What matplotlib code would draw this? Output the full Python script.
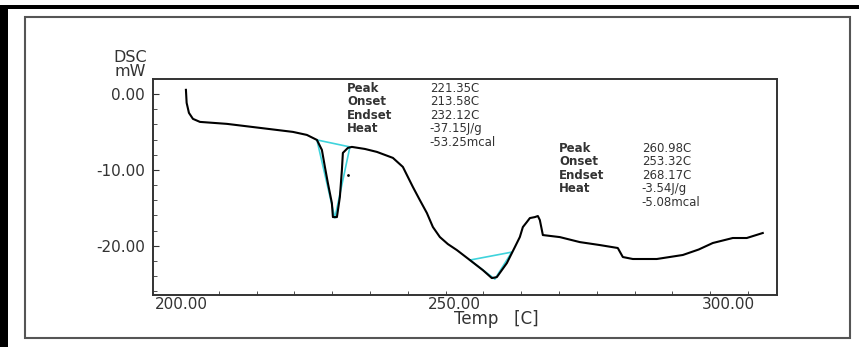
import numpy as np
import matplotlib
matplotlib.use("Agg")
from matplotlib import pyplot as plt
from matplotlib.patches import Rectangle

plt.rcParams['font.family'] = ['DejaVu Sans']

# DSC trace (temp in C, heat flow in mW)
temp = [200.91, 201.04, 201.46, 202.19, 203.47, 208.39, 214.42, 220.44, 222.99, 224.82,
        225.73, 226.28, 226.82, 227.55, 227.74, 228.47, 229.01, 229.38, 229.56, 230.47,
        231.2, 233.58, 235.77, 238.69, 240.51, 241.42, 242.34, 243.61, 244.89, 245.99,
        247.26, 248.72, 250.36, 252.74, 255.11, 256.75, 257.66, 259.49, 260.95, 261.86,
        262.41, 263.14, 263.69, 264.6, 265.15, 265.51, 265.88, 266.06, 269.16, 272.81,
        276.46, 279.74, 280.66, 282.48, 286.86, 291.61, 294.5, 297.08, 300.73, 303.28,
        306.20]
dsc = [0.57, -1.15, -2.47, -3.26, -3.66, -3.92, -4.45, -4.98, -5.38, -6.04,
       -7.36, -9.61, -11.72, -14.37, -16.22, -16.22, -13.57, -10.0, -7.75, -7.09,
       -6.96, -7.23, -7.62, -8.41, -9.60, -10.92, -12.25, -13.98, -15.68, -17.53,
       -18.85, -19.78, -20.57, -21.89, -23.22, -24.27, -24.14, -22.29, -20.18, -18.85,
       -17.54, -16.87, -16.35, -16.22, -16.08, -16.61, -17.93, -18.59, -18.86, -19.52,
       -19.91, -20.30, -21.49, -21.75, -21.75, -21.22, -20.5, -19.64, -18.98, -18.98,
       -18.32]

# tangent / baseline construction (cyan) for the two peaks
peak1_x = [224.82, 228.1, 230.84, 224.82]
peak1_y = [-6.04, -16.34, -6.96, -6.04]
peak2_x = [252.74, 257.3, 260.4, 252.74]
peak2_y = [-21.89, -24.4, -20.84, -21.89]

labels = ["Peak", "Onset", "Endset", "Heat"]
vals1 = ["221.35C", "213.58C", "232.12C", "-37.15J/g", "-53.25mcal"]
vals2 = ["260.98C", "253.32C", "268.17C", "-3.54J/g", "-5.08mcal"]

fig = plt.figure(figsize=(8.59, 3.47), dpi=100)
ax = fig.add_axes([153/859, 1 - 295/347, 624/859, 216/347])

ax.plot(peak1_x, peak1_y, color='#3fd3dc', lw=1.2)
ax.plot(peak2_x, peak2_y, color='#3fd3dc', lw=1.2)
ax.plot(temp, dsc, color='black', lw=1.5)
ax.plot([230.47], [-10.64], 'k.', ms=2)

ax.set_xlim(194.9, 308.8)
ax.set_ylim(-26.5, 2.0)

gray = '#333333'
ax.set_xticks([200, 250, 300])
ax.set_xticklabels(["200.00", "250.00", "300.00"])
ax.set_xticks(200 + 6.9 * np.arange(16), minor=True)
ax.set_yticks([0, -10, -20])
ax.set_yticklabels(["0.00", "-10.00", "-20.00"])
ax.set_yticks(np.arange(-26, 1, 2), minor=True)
ax.tick_params(axis='x', which='major', length=0, pad=1.5, labelsize=11, labelcolor=gray)
ax.tick_params(axis='x', which='minor', direction='in', length=3, color=gray)
ax.tick_params(axis='y', which='major', direction='in', length=4, pad=6, labelsize=11,
               labelcolor=gray, color=gray)
ax.tick_params(axis='y', which='minor', direction='in', length=3, color=gray)
for s in ax.spines.values():
    s.set_color(gray)
    s.set_linewidth(1.4)

ax.set_xlabel("Temp   [C]", fontsize=12, color=gray)
ax.xaxis.set_label_coords(0.55, -0.07)
ax.text(-0.037, 1.067, "DSC\nmW", transform=ax.transAxes, ha='center', va='center',
        fontsize=11.5, color=gray, linespacing=0.95)

ax.text(230.3, 1.62, "\n".join(labels), fontsize=8.5, fontweight='bold', color=gray,
        va='top', ha='left', linespacing=1.05)
ax.text(245.4, 1.62, "\n".join(vals1), fontsize=8.5, color=gray,
        va='top', ha='left', linespacing=1.05)
ax.text(269.0, -6.26, "\n".join(labels), fontsize=8.5, fontweight='bold', color=gray,
        va='top', ha='left', linespacing=1.05)
ax.text(284.1, -6.26, "\n".join(vals2), fontsize=8.5, color=gray,
        va='top', ha='left', linespacing=1.05)

# outer frames of the screenshot
fig.add_artist(Rectangle((25/859, 1 - 338/347), 825/859, 321/347, fill=False,
                         edgecolor='#555555', lw=1.5, transform=fig.transFigure))
fig.add_artist(Rectangle((0, 1 - 9/347), 1, 4/347, color='black', lw=0,
                         transform=fig.transFigure))
fig.add_artist(Rectangle((0, 0), 8/859, 1 - 5/347, color='black', lw=0,
                         transform=fig.transFigure))

plt.savefig("out.png", dpi=100)
